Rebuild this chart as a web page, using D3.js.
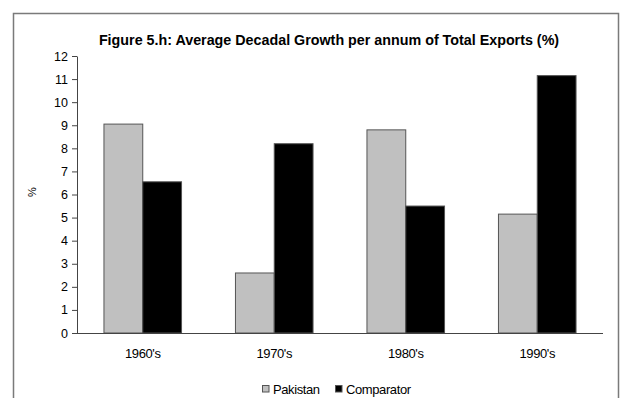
<!DOCTYPE html>
<html><head><meta charset="utf-8">
<script src="https://cdn.jsdelivr.net/npm/d3@7"></script>
<style>body{margin:0;background:#fff}svg{display:block}</style>
</head><body>
<svg id="c" width="622" height="398"></svg>
<script>
const categories = ["1960's", "1970's", "1980's", "1990's"];
const seriesNames = ["Pakistan", "Comparator"];
const pakistan = [9.05, 2.6, 8.8, 5.15];
const comparator = [6.55, 8.2, 5.5, 11.15];
const yTicks = [0,1,2,3,4,5,6,7,8,9,10,11,12];
const title = "Figure 5.h: Average Decadal Growth per annum of Total Exports (%)";
const colors = ["#c0c0c0", "#000000"];

const svg = d3.select("#c");
const font = "Liberation Sans, Arial, sans-serif";

// outer frame
svg.append("path").attr("d","M13.5,398 L13.5,13.5 L618.5,13.5 L618.5,398")
  .attr("fill","none").attr("stroke","#7a7a7a").attr("stroke-width",1.5);

const x0 = d3.scaleBand().domain(categories).range([77, 603]).paddingInner(0.41).paddingOuter(0.205);
const x1 = d3.scaleBand().domain(seriesNames).range([0, x0.bandwidth()]);
const y = d3.scaleLinear().domain([0, 12]).range([333, 56]);

const data = categories.map((c,i)=>({cat:c, vals:[pakistan[i], comparator[i]]}));
const g = svg.append("g");
data.forEach(d=>{
  d.vals.forEach((v,j)=>{
    g.append("rect")
      .attr("x", x0(d.cat) + x1(seriesNames[j]))
      .attr("y", y(v))
      .attr("width", x1.bandwidth())
      .attr("height", y(0) - y(v))
      .attr("fill", colors[j])
      .attr("stroke", "#555").attr("stroke-width", 1);
  });
});

// y axis
const yAxis = d3.axisLeft(y).tickValues(yTicks).tickSize(5).tickSizeOuter(0).tickPadding(4);
const ya = svg.append("g").attr("transform","translate(77,0)").call(yAxis);
ya.selectAll("text").attr("font-family", font).attr("font-size", 12.5).attr("fill","#000");
ya.selectAll("line").attr("stroke","#444");
ya.select(".domain").attr("stroke","#444");

// x axis
svg.append("line").attr("x1",77).attr("x2",603).attr("y1",y(0)+0.5).attr("y2",y(0)+0.5)
  .attr("stroke","#444");
svg.append("g").selectAll("text").data(categories).join("text")
  .attr("x", d=>x0(d)+x0.bandwidth()/2)
  .attr("y", 358)
  .attr("text-anchor","middle")
  .attr("font-family", font).attr("font-size", 13).attr("letter-spacing", -0.4)
  .text(d=>d);

// title
svg.append("text").attr("x", 329).attr("y", 44.5).attr("text-anchor","middle")
  .attr("font-family", font).attr("font-weight","bold").attr("font-size", 14.3)
  .text(title);

// y label
svg.append("text").attr("transform","translate(36,192) rotate(-90)")
  .attr("text-anchor","middle").attr("font-family", font).attr("font-size", 11)
  .text("%");

// legend
const leg = svg.append("g");
const legX = [262, 335];
seriesNames.forEach((s,j)=>{
  leg.append("rect").attr("x", legX[j]+0.5).attr("y", 385.5).attr("width", 6.5).attr("height", 6.5)
    .attr("fill", colors[j]).attr("stroke", "#555");
  leg.append("text").attr("x", legX[j]+11).attr("y", 393.5)
    .attr("font-family", font).attr("font-size", 13).attr("letter-spacing", -0.4)
    .text(s);
});
</script>
</body></html>
